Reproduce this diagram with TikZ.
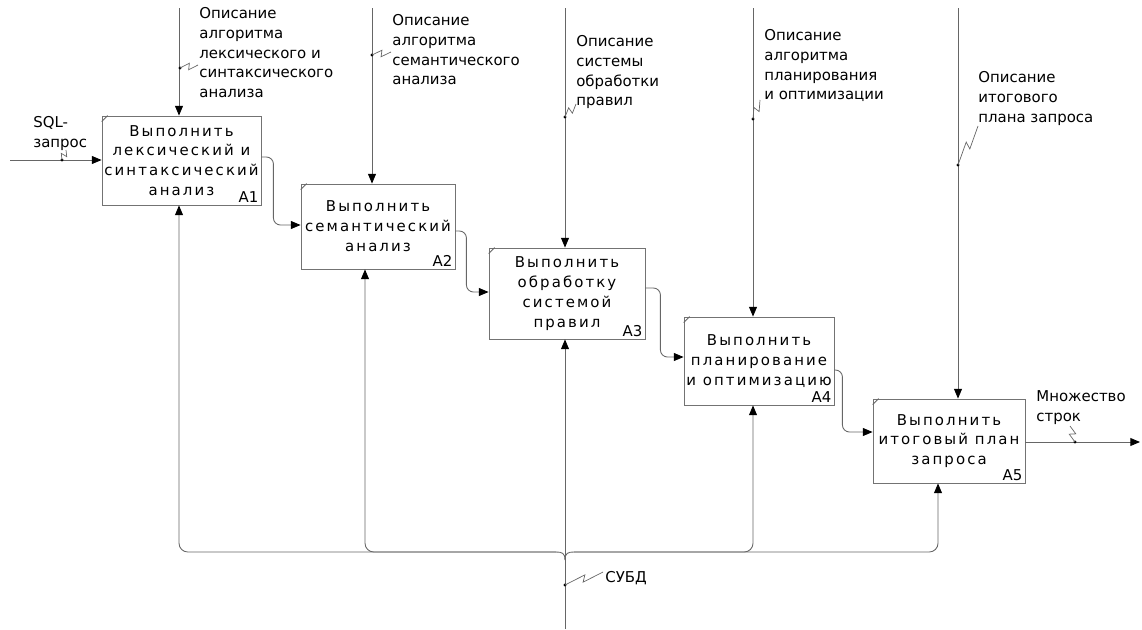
\documentclass[tikz,border=0pt]{standalone}
\usepackage{fontspec}
\setmainfont{DejaVu Sans}
\newfontfamily\boxfont[LetterSpace=14]{DejaVu Sans}
\usetikzlibrary{arrows.meta,calc}

% IDEF0 look
\tikzset{
  fn/.style={draw=black!55, line width=0.5pt, align=center, inner sep=0pt,
    font=\boxfont\fontsize{8.5}{11.3}\selectfont},
  num/.style={anchor=south east, inner sep=1.5pt, font=\fontsize{8.5}{10}\selectfont},
  link/.style={draw=black!60, line width=0.5pt},
  arr/.style={link, -{Triangle[length=5.5pt,width=4.5pt,color=black]}},
  lbl/.style={anchor=north west, inner sep=0pt, align=left,
    font=\fontsize{8.5}{11.3}\selectfont},
}

% tunnel squiggle from a dot on the arrow to its label
\newcommand{\squiggle}[2]{%
  \fill (#1) circle (0.9pt);
  \draw[link, line width=0.4pt] (#1) -- ($(#1)!0.55!(#2)!1.8pt!90:(#2)$)
    -- ($(#1)!0.45!(#2)!1.8pt!-90:(#2)$) -- (#2);}

\begin{document}
\begin{tikzpicture}[x=0.02cm, y=-0.02cm]
    \useasboundingbox (0,0) rectangle (1142,629);

    % activities
    \node[fn, minimum width=3.18cm, minimum height=1.78cm] (A1) at (181.5,160.5)
        {Выполнить\\лексический и\\синтаксический\\анализ};
    \node[fn, minimum width=3.08cm, minimum height=1.70cm] (A2) at (378,226.5)
        {Выполнить\\семантический\\анализ};
    \node[fn, minimum width=3.12cm, minimum height=1.82cm] (A3) at (567,293.5)
        {Выполнить\\обработку\\системой\\правил};
    \node[fn, minimum width=3.00cm, minimum height=1.76cm] (A4) at (759,361)
        {Выполнить\\планирование\\и оптимизацию};
    \node[fn, minimum width=3.04cm, minimum height=1.68cm] (A5) at (949,441)
        {Выполнить\\итоговый план\\запроса};
    \foreach \b in {A1,A2,A3,A4,A5} {
        \node[num] at (\b.south east) {\b};
        \draw[link] ($(\b.north west)+(0,6)$) -- ($(\b.north west)+(6,0)$);
    }

    % controls
    \coordinate (c1) at (179,8);
    \coordinate (c2) at (372,8);
    \coordinate (c3) at (565,8);
    \coordinate (c4) at (753,8);
    \coordinate (c5) at (958,8);
    \draw[arr] (c1) -- (c1 |- A1.north);
    \draw[arr] (c2) -- (c2 |- A2.north);
    \draw[arr] (c3) -- (c3 |- A3.north);
    \draw[arr] (c4) -- (c4 |- A4.north);
    \draw[arr] (c5) -- (c5 |- A5.north);
    \node[lbl] (t1) at (199,7) {Описание\\алгоритма\\лексического и\\синтаксического\\анализа};
    \node[lbl] (t2) at (392,14) {Описание\\алгоритма\\семантического\\анализа};
    \node[lbl] (t3) at (576,35) {Описание\\системы\\обработки\\правил};
    \node[lbl] (t4) at (764,29) {Описание\\алгоритма\\планирования\\и оптимизации};
    \node[lbl] (t5) at (978,71) {Описание\\итогового\\плана запроса};
    \squiggle{180,68}{198,65}
    \squiggle{372,55}{391,52}
    \squiggle{565,117}{576,104}
    \squiggle{753,119}{760,100}
    \squiggle{958,165}{978,126}

    % input and output
    \coordinate (in) at (10,160);
    \coordinate (out) at (1140,442);
    \draw[arr] (in) -- (in -| A1.west);
    \draw[arr] (A5.east |- out) -- (out);
    \node[lbl] (sql) at (33,116) {SQL-\\запрос};
    \node[lbl] (rows) at (1036,390) {Множество\\строк};
    \squiggle{62,160}{66,150}
    \squiggle{1075,442}{1070,426}

    % flow between activities
    \draw[arr, rounded corners=4pt] (A1.east |- 0,157) -- ++(12,0) |- (A2.west |- 0,225);
    \draw[arr, rounded corners=4pt] (A2.east |- 0,231) -- ++(11,0) |- (A3.west |- 0,292);
    \draw[arr, rounded corners=4pt] (A3.east |- 0,288) -- ++(15,0) |- (A4.west |- 0,357);
    \draw[arr, rounded corners=4pt] (A4.east |- 0,370) -- ++(8,0) |- (A5.west |- 0,432);

    % mechanism
    \coordinate (mb) at (565,629);
    \coordinate (mj) at (565,560);
    \draw[arr] (mb) -- (mb |- A3.south);
    \draw[link] (mj) .. controls (565,553) and (562,552) .. (556,552);
    \draw[link] (mj) .. controls (565,553) and (568,552) .. (574,552);
    \draw[arr, rounded corners=5pt] (556,552) -| (179,0 |- A1.south);
    \draw[arr, rounded corners=5pt] (556,552) -| (365,0 |- A2.south);
    \draw[arr, rounded corners=5pt] (574,552) -| (753,0 |- A4.south);
    \draw[arr, rounded corners=5pt] (574,552) -| (938,0 |- A5.south);
    \node[lbl] (dbms) at (605,571) {СУБД};
    \squiggle{565,585}{603,572}
\end{tikzpicture}
\end{document}
